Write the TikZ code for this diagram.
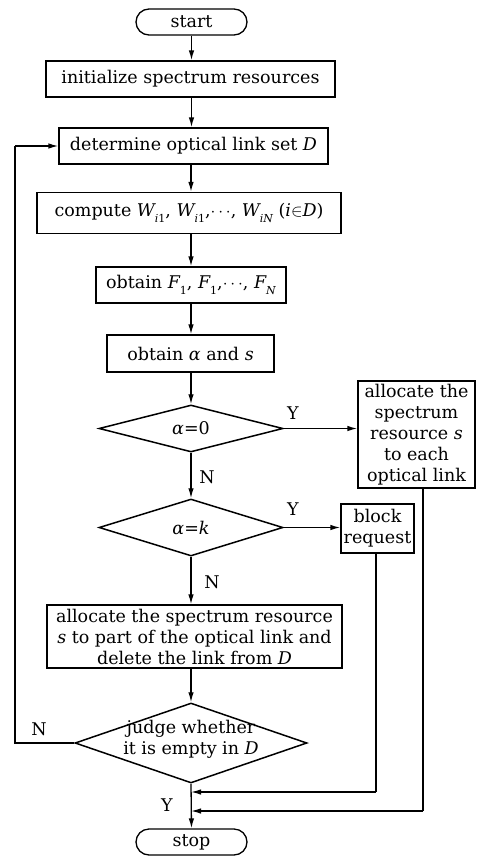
\documentclass[tikz,border=0pt]{standalone}
\usepackage{fontspec}
\setmainfont{DejaVu Serif}
\usetikzlibrary{shapes.geometric,shapes.misc,arrows.meta,calc}
\newcommand\vv[1]{{\itshape #1}}
\newcommand\sbs[1]{\raisebox{-0.3em}{\fontsize{11}{11}\selectfont #1}}
\begin{document}
\begin{tikzpicture}[x=1pt,y=-1pt,
  every node/.style={font=\fontsize{17.5}{21}\selectfont},
  line/.style={line width=1.3pt},
  arr/.style={line width=1.3pt,-{Latex[length=10pt,width=5.5pt]}},
  box/.style={draw,line width=1.3pt,rectangle,inner sep=1pt,align=center},
  term/.style={draw,line width=1.3pt,rounded rectangle,minimum width=111pt,minimum height=26pt,inner sep=0pt},
  dia/.style={draw,line width=1.5pt,diamond,inner sep=0pt},
  lbl/.style={inner sep=0pt}]
\useasboundingbox (0,0) rectangle (485,857);

\node[term] (start) at (191.5,22) {start};
\node[box,minimum width=289pt,minimum height=36pt] (init) at (190.5,79) {initialize spectrum resources};
\node[box,minimum width=269pt,minimum height=36pt] (det) at (193.5,146) {determine optical link set \vv{D}};
\node[box,minimum width=304pt,minimum height=41pt] (comp) at (189,213) {compute \vv{W}\sbs{\vv{i}1}, \vv{W}\sbs{\vv{i}1},$\cdots$, \vv{W}\sbs{\vv{iN}} (\vv{i}$\in$\vv{D})};
\node[box,minimum width=190pt,minimum height=36pt] (obtF) at (191,285) {obtain \vv{F}\sbs{1}, \vv{F}\sbs{1},$\cdots$, \vv{F}\sbs{\vv{N}}};
\node[box,minimum width=167pt,minimum height=37pt] (obtA) at (190.5,353.5) {obtain \vv{α} and \vv{s}};
\node[dia,minimum width=184pt,minimum height=47pt] (d0) at (191,428.5) {};
\node[lbl] (d0t) at (d0) {\vv{α}=0};
\node[box,minimum width=117pt,minimum height=107pt] (alloc) at (416.5,434.5) {allocate the\\spectrum\\resource \vv{s}\\to each\\optical link};
\node[dia,minimum width=184pt,minimum height=57pt] (dk) at (191,527.5) {};
\node[lbl] (dkt) at (dk) {\vv{α}=\vv{k}};
\node[box,minimum width=73pt,minimum height=49pt] (block) at (377.5,528.5) {block\\request};
\node[box,minimum width=295pt,minimum height=63pt] (part) at (194.5,636.5) {allocate the spectrum resource\\\vv{s} to part of the optical link and\\delete the link from \vv{D}};
\node[dia,minimum width=232pt,minimum height=80pt] (judge) at (191,743) {};
\node[lbl,align=center] (judget) at (191,739) {judge whether\\it is empty in \vv{D}};
\node[term] (stop) at (191.5,842) {stop};

\coordinate (m1) at (191,792);
\coordinate (m2) at (191,811);
\coordinate (c1) at (376,792);
\coordinate (c2) at (423,811);
\coordinate (l1) at (15,743);
\coordinate (l2) at (15,146);

\draw[arr] (start.south) -- (start.south |- init.north);
\draw[arr] (init.south -| start.south) -- (start.south |- det.north);
\draw[arr] (det.south -| d0.north) -- (d0.north |- comp.north);
\draw[arr] (comp.south -| d0.north) -- (d0.north |- obtF.north);
\draw[arr] (obtF.south -| d0.north) -- (d0.north |- obtA.north);
\draw[arr] (obtA.south -| d0.north) -- (d0.north);
\draw[arr] (d0.south) -- (dk.north);
\draw[arr] (dk.south) -- (dk.south |- part.north);
\draw[arr] (part.south -| judge.north) -- (judge.north);
\draw[arr] (judge.south) -- (stop.north);
\draw[arr] (d0.east) -- (d0.east -| alloc.west);
\draw[arr] (dk.east) -- (dk.east -| block.west);
\draw[line] (judge.west) -- (l1) -- (l2);
\draw[arr] (l2) -- (det.west);
\draw[line] (block.south -| c1) -- (c1);
\draw[arr] (c1) -- (m1);
\draw[line] (alloc.south -| c2) -- (c2);
\draw[arr] (c2) -- (m2);

\node[lbl] (y1) at (293,413) {Y};
\node[lbl] (y2) at (293,509) {Y};
\node[lbl] (n1) at (207,477) {N};
\node[lbl] (n2) at (212,582) {N};
\node[lbl] (n3) at (39,729) {N};
\node[lbl] (y3) at (167,805) {Y};
\end{tikzpicture}
\end{document}
